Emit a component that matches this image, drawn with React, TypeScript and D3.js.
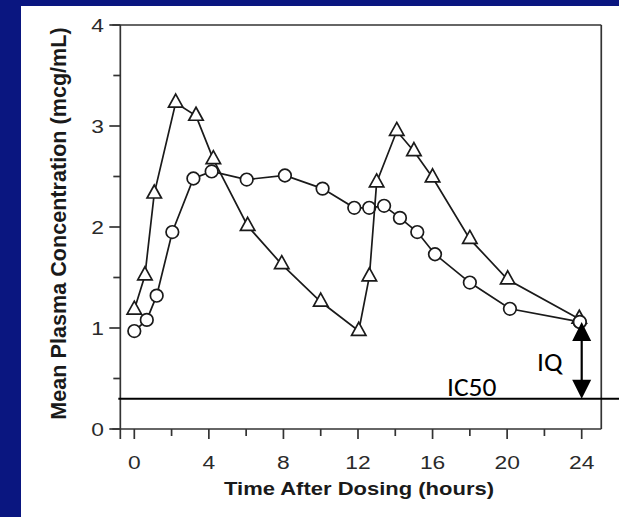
import React from "react";
import * as d3 from "d3";

const hoursTri = [0, 0.57, 1.07, 2.22, 3.31, 4.24, 6.08, 7.91, 10.0, 12.04, 12.61, 13.0, 14.08, 15.0, 16.0, 18.0, 20.03, 23.87];
const concTri = [1.18, 1.52, 2.33, 3.23, 3.1, 2.67, 2.01, 1.63, 1.26, 0.97, 1.51, 2.44, 2.95, 2.75, 2.49, 1.88, 1.48, 1.09];
const hoursCirc = [0, 0.67, 1.2, 2.04, 3.17, 4.15, 6.03, 8.08, 10.1, 11.8, 12.6, 13.4, 14.25, 15.18, 16.13, 18.0, 20.15, 23.9];
const concCirc = [0.97, 1.08, 1.32, 1.95, 2.48, 2.55, 2.47, 2.51, 2.38, 2.19, 2.19, 2.21, 2.09, 1.95, 1.73, 1.45, 1.19, 1.06];
const xTickLabels = [0, 4, 8, 12, 16, 20, 24];
const xMinorTicks = [2, 6, 10, 14, 18, 22];
const yTickLabels = [0, 1, 2, 3, 4];
const yMinorTicks = [0.5, 1.5, 2.5, 3.5];
const ic50 = 0.3;
const iqTop = 1.06;
const iqHour = 24;

const W = 619;
const H = 517;
const INK = "#1a1a1a";

export default function App() {
  const x = d3.scaleLinear().domain([0, 24]).range([134.3, 581.7]);
  const y = d3.scaleLinear().domain([0, 4]).range([429, 25]);
  const left = x(-0.75);
  const right = x(25.05);
  const top = y(4);
  const bottom = y(0);

  const triData = hoursTri.map((h, i) => [h, concTri[i]] as [number, number]);
  const circData = hoursCirc.map((h, i) => [h, concCirc[i]] as [number, number]);
  const line = d3.line<[number, number]>().x((d) => x(d[0])).y((d) => y(d[1]));

  const triPath = (cx: number, cy: number) => {
    const hw = 7.2, h = 13;
    return `M${cx},${cy - (2 * h) / 3}L${cx + hw},${cy + h / 3}L${cx - hw},${cy + h / 3}Z`;
  };

  const ax = x(iqHour);
  const aTop = y(iqTop);
  const aBot = y(ic50);
  const headH = 19, headW = 9.5;

  return (
    <svg width={W} height={H} style={{ position: "absolute", left: 0, top: 0 }}>
      <rect x={0} y={0} width={W} height={H} fill="#0a1680" />
      <rect x={21} y={6} width={W - 21} height={H - 6} fill="#ffffff" />

      {/* frame */}
      <g stroke="#333" strokeWidth={1.7} fill="none">
        <line x1={left - 8} y1={top} x2={right} y2={top} />
        <line x1={right} y1={top} x2={right} y2={bottom} />
        <line x1={left - 8} y1={bottom} x2={right} y2={bottom} />
        <line x1={left} y1={top} x2={left} y2={bottom + 10} />
        {yTickLabels.map((v) => (
          <line key={"ym" + v} x1={left - 11} x2={left} y1={y(v)} y2={y(v)} />
        ))}
        {yMinorTicks.map((v) => (
          <line key={"yn" + v} x1={left - 7} x2={left} y1={y(v)} y2={y(v)} />
        ))}
        {xTickLabels.map((v) => (
          <line key={"xm" + v} x1={x(v)} x2={x(v)} y1={bottom} y2={bottom + 10} />
        ))}
        {xMinorTicks.map((v) => (
          <line key={"xn" + v} x1={x(v)} x2={x(v)} y1={bottom} y2={bottom + 7} />
        ))}
      </g>

      {/* tick labels */}
      <g fill="#2a2a2a" fontFamily="'Liberation Sans', Arial, sans-serif" fontSize={19}>
        {yTickLabels.map((v) => (
          <text key={"yl" + v} transform={`translate(104,${y(v)}) scale(1.2,1)`} textAnchor="end" dy="0.36em">
            {v}
          </text>
        ))}
        {xTickLabels.map((v) => (
          <text key={"xl" + v} transform={`translate(${x(v)},469) scale(1.2,1)`} textAnchor="middle">
            {v}
          </text>
        ))}
      </g>

      {/* axis titles */}
      <text
        transform="translate(359,495) scale(1.17,1)"
        textAnchor="middle"
        fontFamily="'Liberation Sans', Arial, sans-serif"
        fontWeight="bold"
        fontSize={18.8}
        fill="#1a1a1a"
      >
        Time After Dosing (hours)
      </text>
      <text
        transform="translate(66,223.5) rotate(-90)"
        textAnchor="middle"
        fontFamily="'Liberation Sans', Arial, sans-serif"
        fontWeight="bold"
        fontSize={21.6}
        fill="#1a1a1a"
      >
        Mean Plasma Concentration (mcg/mL)
      </text>

      {/* IC50 line */}
      <line x1={left - 2} x2={W} y1={y(ic50)} y2={y(ic50)} stroke="#000" strokeWidth={2} />

      {/* circle series */}
      <path d={line(circData) || ""} fill="none" stroke={INK} strokeWidth={1.7} />
      {circData.map((d, i) => (
        <circle key={"c" + i} cx={x(d[0])} cy={y(d[1])} r={6.3} fill="#fff" stroke={INK} strokeWidth={1.7} />
      ))}

      {/* triangle series */}
      <path d={line(triData) || ""} fill="none" stroke={INK} strokeWidth={1.7} />
      {triData.map((d, i) => (
        <path key={"t" + i} d={triPath(x(d[0]), y(d[1]))} fill="#fff" stroke={INK} strokeWidth={1.7} strokeLinejoin="miter" />
      ))}
      {/* last circle drawn over the triangle at 24 h */}
      <circle cx={x(circData[circData.length - 1][0])} cy={y(circData[circData.length - 1][1])} r={6.3} fill="#fff" stroke={INK} strokeWidth={1.7} />

      {/* IQ arrow */}
      <line x1={ax} x2={ax} y1={aTop + headH - 2} y2={aBot - headH + 2} stroke="#000" strokeWidth={2.2} />
      <path d={`M${ax},${aTop}L${ax + headW},${aTop + headH}L${ax - headW},${aTop + headH}Z`} fill="#000" />
      <path d={`M${ax},${aBot}L${ax + headW},${aBot - headH}L${ax - headW},${aBot - headH}Z`} fill="#000" />

      <g fontFamily="Carlito, Lato, 'Open Sans', sans-serif" fontSize={27.5} fill="#000">
        <text x={537} y={371}>IQ</text>
        <text x={447} y={396}>IC50</text>
      </g>
    </svg>
  );
}
